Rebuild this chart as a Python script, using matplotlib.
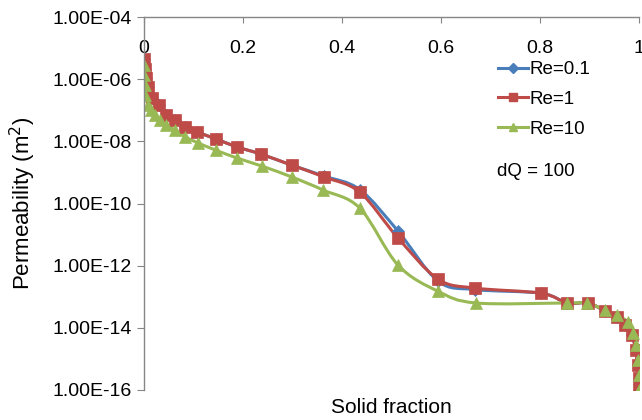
# -*- coding: utf-8 -*-

import matplotlib
matplotlib.use("Agg")
import matplotlib.pyplot as plt
from matplotlib.path import Path
from matplotlib.patches import PathPatch
from matplotlib.lines import Line2D
from matplotlib.ticker import FixedLocator, FuncFormatter, NullLocator

import numpy as np

plt.rcParams['font.family'] = ['Liberation Sans', 'DejaVu Sans']

# solid fraction / permeability (m^2), dQ = 100
solid_re01 = [0.0005, 0.002, 0.004, 0.008, 0.016, 0.030, 0.044, 0.063, 0.083, 0.107,
              0.145, 0.188, 0.236, 0.299, 0.364, 0.436, 0.513, 0.594, 0.669, 0.802,
              0.855, 0.897, 0.931, 0.956, 0.972, 0.986, 0.993, 0.997, 0.999, 1.0]
perm_re01 = [4.5e-6, 2.2e-6, 1.1e-6, 5.6e-7, 2.5e-7, 1.5e-7, 7.1e-8, 4.9e-8, 2.9e-8, 2.0e-8,
             1.2e-8, 6.6e-9, 3.9e-9, 1.7e-9, 7.6e-10, 2.8e-10, 1.3e-11, 3.2e-13, 1.7e-13, 1.3e-13,
             6.3e-14, 6.3e-14, 3.5e-14, 2.2e-14, 1.2e-14, 5.9e-15, 2.0e-15, 6.3e-16, 2.5e-16, 1.0e-16]

solid_re1 = [0.0005, 0.002, 0.004, 0.008, 0.016, 0.030, 0.044, 0.063, 0.083, 0.107,
             0.145, 0.188, 0.236, 0.299, 0.364, 0.436, 0.513, 0.594, 0.669, 0.802,
             0.855, 0.897, 0.931, 0.956, 0.972, 0.986, 0.993, 0.997, 0.999, 1.0]
perm_re1 = [4.5e-6, 2.2e-6, 1.1e-6, 5.6e-7, 2.5e-7, 1.5e-7, 7.1e-8, 4.9e-8, 2.9e-8, 2.0e-8,
            1.2e-8, 6.6e-9, 3.9e-9, 1.7e-9, 7.1e-10, 2.3e-10, 7.8e-12, 3.7e-13, 1.9e-13, 1.3e-13,
            6.3e-14, 6.3e-14, 3.5e-14, 2.2e-14, 1.2e-14, 5.9e-15, 2.0e-15, 6.3e-16, 2.5e-16, 1.0e-16]

solid_re10 = [0.0005, 0.001, 0.0015, 0.002, 0.008, 0.014, 0.022, 0.032, 0.044, 0.063,
              0.083, 0.109, 0.145, 0.188, 0.238, 0.299, 0.362, 0.436, 0.513, 0.594,
              0.671, 0.855, 0.895, 0.931, 0.956, 0.978, 0.988, 0.994, 0.998, 0.9995, 1.0]
perm_re10 = [2.9e-6, 1.35e-6, 6.5e-7, 3.1e-7, 1.5e-7, 1.0e-7, 7.1e-8, 4.9e-8, 3.4e-8, 2.3e-8,
             1.4e-8, 8.9e-9, 5.2e-9, 2.9e-9, 1.6e-9, 7.1e-10, 2.7e-10, 7.1e-11, 1.05e-12, 1.5e-13,
             6.3e-14, 6.3e-14, 6.3e-14, 3.7e-14, 2.6e-14, 1.5e-14, 6.8e-15, 2.8e-15, 9.1e-16, 3.0e-16, 1.0e-16]

labels = ["Re=0.1", "Re=1", "Re=10"]
colors = ["#4A7EBB", "#BE4B48", "#98B954"]
markers = ["D", "s", "^"]
msizes = [6.5, 8.0, 8.0]


def smooth_path(x, y):
    """
    Bezier path through the points (Catmull-Rom style), built in log10(y)
    so the log scale turns the control points into a smooth curve on screen
    """
    px = np.asarray(x, dtype=float)
    py = np.log10(np.asarray(y, dtype=float))
    n = len(px)
    verts = [(px[0], py[0])]
    codes = [Path.MOVETO]
    for i in range(n - 1):
        i0 = max(i - 1, 0)
        i3 = min(i + 2, n - 1)
        c1 = (px[i] + (px[i + 1] - px[i0]) / 6.0, py[i] + (py[i + 1] - py[i0]) / 6.0)
        c2 = (px[i + 1] - (px[i3] - px[i]) / 6.0, py[i + 1] - (py[i3] - py[i]) / 6.0)
        verts += [c1, c2, (px[i + 1], py[i + 1])]
        codes += [Path.CURVE4] * 3
    verts = np.array(verts)
    verts[:, 1] = 10.0 ** verts[:, 1]
    return Path(verts, codes)


if __name__ == "__main__":

    fig = plt.figure(figsize=(6.42, 4.20), dpi=100)
    ax = fig.add_axes([144 / 642, 1 - 390 / 420, 495 / 642, 373 / 420])
    ax.set_yscale('log')

    series = [(solid_re01, perm_re01), (solid_re1, perm_re1), (solid_re10, perm_re10)]
    handles = []
    for (sx, sy), lab, c, m, ms in zip(series, labels, colors, markers, msizes):
        ax.add_patch(PathPatch(smooth_path(sx, sy), facecolor='none', edgecolor=c,
                               lw=2.2, capstyle='round', joinstyle='round'))
        ax.plot(sx, sy, ls='none', marker=m, ms=ms, mfc=c, mec=c, mew=0.5)
        handles.append(Line2D([], [], color=c, lw=2.2, marker=m, ms=ms * 0.75, mfc=c, mec=c))

    ax.set_xlim(0, 1)
    ax.set_ylim(1e-16, 1e-4)

    gray = "#868686"
    for side in ('right', 'bottom'):
        ax.spines[side].set_visible(False)
    for side in ('left', 'top'):
        ax.spines[side].set_color(gray)
        ax.spines[side].set_linewidth(1.0)

    # x axis sits on the top edge, labels just under it
    ax.set_xticks([0, 0.2, 0.4, 0.6, 0.8, 1.0])
    ax.set_xticklabels(["0", "0.2", "0.4", "0.6", "0.8", "1"])
    ax.tick_params(axis='x', top=True, bottom=False, labeltop=True, labelbottom=False,
                   direction='in', length=4, color=gray, pad=-29, labelsize=14)
    ax.xaxis.set_label_position('bottom')
    ax.set_xlabel("Solid fraction", fontsize=15, labelpad=6)

    ax.yaxis.set_major_locator(FixedLocator([1e-16, 1e-14, 1e-12, 1e-10, 1e-8, 1e-6, 1e-4]))
    ax.yaxis.set_minor_locator(NullLocator())
    ax.yaxis.set_major_formatter(FuncFormatter(lambda v, pos: "%.2E" % v))
    ax.tick_params(axis='y', direction='out', length=5, color=gray, labelsize=14, pad=4)
    ax.set_ylabel("Permeability (m$^2$)", fontsize=16, labelpad=10)

    fig.legend(handles, labels, loc='upper left', bbox_to_anchor=(498 / 642, 1 - 61 / 420),
               frameon=False, fontsize=13.5, handlelength=1.6, handletextpad=0.1,
               labelspacing=0.68, borderpad=0, borderaxespad=0)
    fig.text(497 / 642, 1 - 172 / 420, "dQ = 100", fontsize=13.5, va='center', ha='left')

    fig.savefig("out.png", dpi=100)
